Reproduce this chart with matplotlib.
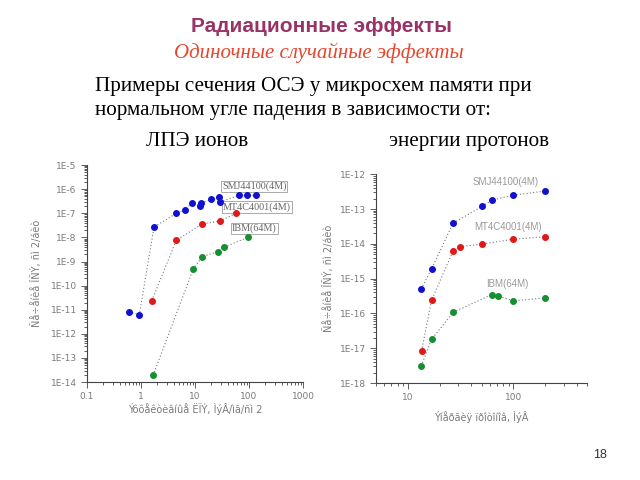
import numpy as np
import matplotlib
matplotlib.use("Agg")
import matplotlib.pyplot as plt
from matplotlib.ticker import FixedLocator, LogLocator, NullFormatter

# --- left chart: cross-section vs effective LET ---
let_smj = [0.6, 0.93, 1.74, 4.5, 6.5, 8.8, 12.2, 13.1, 20, 27.8, 29, 65, 93, 133]
sig_smj = [8e-12, 6.3e-12, 2.7e-8, 1e-7, 1.4e-7, 2.7e-7, 2e-7, 2.7e-7, 3.8e-7, 4.7e-7, 3e-7, 5.5e-7, 5.5e-7, 5.5e-7]
let_mt = [1.58, 4.5, 13.5, 29, 58]
sig_mt = [2.4e-11, 7.6e-9, 3.6e-8, 4.8e-8, 1e-7]
let_ibm = [1.67, 9.3, 13.7, 26.7, 34, 94]
sig_ibm = [1.9e-14, 5e-10, 1.6e-9, 2.6e-9, 3.9e-9, 1e-8]

# --- right chart: cross-section vs proton energy ---
en_smj = [13.4, 16.8, 26.8, 50.7, 63, 100, 200]
psig_smj = [5.1e-16, 1.9e-15, 3.9e-14, 1.2e-13, 1.8e-13, 2.5e-13, 3.3e-13]
en_mt = [13.5, 16.8, 26.8, 31, 50.3, 100, 200]
psig_mt = [8.3e-18, 2.4e-16, 6.1e-15, 8.3e-15, 9.8e-15, 1.36e-14, 1.6e-14]
en_ibm = [13.4, 16.8, 26.8, 62.5, 71, 100, 200]
psig_ibm = [3.1e-18, 1.8e-17, 1.07e-16, 3.5e-16, 3.2e-16, 2.3e-16, 2.8e-16]

names = ["SMJ44100(4M)", "MT4C4001(4M)", "IBM(64M)"]
colors = ["#1010d0", "#e01818", "#159030"]

left_yticks = [1e-5, 1e-6, 1e-7, 1e-8, 1e-9, 1e-10, 1e-11, 1e-12, 1e-13, 1e-14]
left_yticklabels = ["1E-5", "1E-6", "1E-7", "1E-8", "1E-9", "1E-10", "1E-11", "1E-12", "1E-13", "1E-14"]
left_xticks = [0.1, 1, 10, 100, 1000]
left_xticklabels = ["0.1", "1", "10", "100", "1000"]
right_yticks = [1e-12, 1e-13, 1e-14, 1e-15, 1e-16, 1e-17, 1e-18]
right_yticklabels = ["1E-12", "1E-13", "1E-14", "1E-15", "1E-16", "1E-17", "1E-18"]
right_xticks = [10, 100]
right_xticklabels = ["10", "100"]

gray = "#7a7a7a"

fig = plt.figure(figsize=(6.4, 4.8), dpi=100)

fig.text(0.502, 0.944, "Радиационные эффекты", ha="center", va="center",
         fontsize=15, fontweight="bold", color="#993366", family="Liberation Sans")
fig.text(0.498, 0.889, "Одиночные случайные эффекты", ha="center", va="center",
         fontsize=15, style="italic", color="#e8452c", family="Liberation Serif")
fig.text(0.148, 0.820, "Примеры сечения ОСЭ у микросхем памяти при", ha="left", va="center",
         fontsize=15.2, color="black", family="Liberation Serif")
fig.text(0.148, 0.770, "нормальном угле падения в зависимости от:", ha="left", va="center",
         fontsize=15.2, color="black", family="Liberation Serif")
fig.text(0.228, 0.705, "ЛПЭ ионов", ha="left", va="center",
         fontsize=15.2, color="black", family="Liberation Serif")
fig.text(0.608, 0.705, "энергии протонов", ha="left", va="center",
         fontsize=15.2, color="black", family="Liberation Serif")
fig.text(0.927, 0.052, "18", ha="left", va="center", fontsize=9, color="#333333",
         family="Liberation Sans")


def style_axes(ax):
    ax.spines["top"].set_visible(False)
    ax.spines["right"].set_visible(False)
    for s in ["left", "bottom"]:
        ax.spines[s].set_color("#444444")
        ax.spines[s].set_linewidth(0.8)
    ax.tick_params(which="both", colors="#444444", labelcolor=gray, labelsize=6.5, width=0.6)
    ax.tick_params(which="major", length=4)
    ax.tick_params(which="minor", length=2.5)
    ax.patch.set_alpha(0)


# left chart
ax1 = fig.add_axes([0.136, 0.204, 0.3375, 0.452])
ax1.set_xscale("log")
ax1.set_yscale("log")
for x, y, c in zip([let_smj, let_mt, let_ibm], [sig_smj, sig_mt, sig_ibm], colors):
    ax1.plot(x, y, linestyle=(0, (1, 2)), color="#777777", linewidth=0.8,
             marker="o", markersize=4, markerfacecolor=c, markeredgecolor=c, zorder=3)
ax1.set_xlim(0.1, 1000)
ax1.set_ylim(1e-14, 1e-5)
ax1.yaxis.set_major_locator(FixedLocator(left_yticks))
ax1.set_yticklabels(left_yticklabels)
ax1.yaxis.set_minor_locator(LogLocator(base=10, subs=np.arange(2, 10), numticks=20))
ax1.yaxis.set_minor_formatter(NullFormatter())
ax1.xaxis.set_major_locator(FixedLocator(left_xticks))
ax1.set_xticklabels(left_xticklabels)
ax1.xaxis.set_minor_locator(LogLocator(base=10, subs=np.arange(2, 10), numticks=20))
ax1.xaxis.set_minor_formatter(NullFormatter())
style_axes(ax1)
ax1.set_xlabel("Ýôôåêòèâíûå ËÏÝ, ÌýÂ/ìã/ñì 2", fontsize=7, color=gray, labelpad=1)
ax1.set_ylabel("Ñå÷åíèå ÎÑÝ, ñì 2/áèò", fontsize=7, color=gray, labelpad=6)

box = dict(boxstyle="square,pad=0.08", facecolor="white", edgecolor="#aaaaaa", linewidth=0.7)
for name, (tx, ty) in zip(names, [(0.625, 0.903), (0.63, 0.807), (0.671, 0.708)]):
    ax1.text(tx, ty, name, transform=ax1.transAxes, ha="left", va="center",
             fontsize=7.3, color="#666666", family="Liberation Serif", bbox=box, zorder=2)

# right chart
ax2 = fig.add_axes([0.5875, 0.202, 0.33, 0.435])
ax2.set_xscale("log")
ax2.set_yscale("log")
for x, y, c in zip([en_smj, en_mt, en_ibm], [psig_smj, psig_mt, psig_ibm], colors):
    ax2.plot(x, y, linestyle=(0, (1, 2)), color="#777777", linewidth=0.8,
             marker="o", markersize=4, markerfacecolor=c, markeredgecolor=c)
ax2.set_xlim(5, 500)
ax2.set_ylim(1e-18, 1e-12)
ax2.yaxis.set_major_locator(FixedLocator(right_yticks))
ax2.set_yticklabels(right_yticklabels)
ax2.yaxis.set_minor_locator(LogLocator(base=10, subs=np.arange(2, 10), numticks=20))
ax2.yaxis.set_minor_formatter(NullFormatter())
ax2.xaxis.set_major_locator(FixedLocator(right_xticks))
ax2.set_xticklabels(right_xticklabels)
ax2.xaxis.set_minor_locator(LogLocator(base=10, subs=np.arange(2, 10), numticks=20))
ax2.xaxis.set_minor_formatter(NullFormatter())
style_axes(ax2)
ax2.set_xlabel("Ýíåðãèÿ ïðîòîíîâ, ÌýÂ", fontsize=7, color=gray, labelpad=6)
ax2.set_ylabel("Ñå÷åíèå ÎÑÝ, ñì 2/áèò", fontsize=7, color=gray, labelpad=4)

for name, (tx, ty) in zip(names, [(0.616, 0.962), (0.626, 0.746), (0.62, 0.474)]):
    ax2.text(tx, ty, name, transform=ax2.transAxes, ha="center", va="center",
             fontsize=7, color="#999999", family="Liberation Sans")

fig.savefig("out.png", dpi=100)
